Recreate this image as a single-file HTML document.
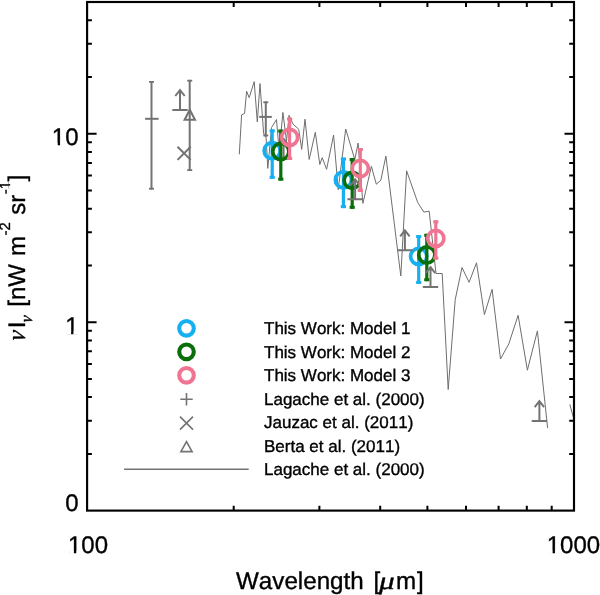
<!DOCTYPE html>
<html><head><meta charset="utf-8"><title>Chart</title>
<style>html,body{margin:0;padding:0;background:#fff;}body{width:600px;height:595px;overflow:hidden;}svg{display:block;will-change:transform;}text{stroke:#000;stroke-width:0.35px;font-kerning:none;text-rendering:geometricPrecision;font-family:"Liberation Sans",sans-serif;fill:#000;}.it{font-family:"Liberation Serif",serif;font-style:italic;}</style>
</head><body>
<svg width="600" height="595" viewBox="0 0 600 595">
<rect x="0" y="0" width="600" height="595" fill="#fff"/>
<path d="M239.3 154.3 L241.6 114.9 L244.6 113.4 L246.6 91.2 L249.2 97.7 L254.2 81.6 L257.3 121.9 L260.0 83.6 L263.6 133.0 L264.6 136.0 L266.0 136.5 L267.8 168.4 L271.5 127.6 L276.5 119.5 L279.2 152.0 L282.9 112.4 L286.5 141.3 L289.0 115.3 L293.1 124.2 L298.7 129.2 L301.7 149.4 L305.0 119.2 L309.2 159.5 L315.3 132.3 L319.8 164.5 L322.2 157.7 L326.6 169.3 L333.6 135.0 L338.2 189.7 L345.7 129.0 L354.8 159.5 L358.1 143.1 L362.9 203.4 L371.4 166.3 L376.3 184.2 L380.8 180.3 L385.9 156.1 L400.8 276.0 L406.6 170.8 L417.7 202.4 L423.8 212.1 L429.2 211.2 L436.0 273.5 L442.2 273.5 L448.2 389.5 L455.2 299.7 L462.0 267.5 L469.1 282.3 L476.5 262.8 L484.4 314.6 L492.1 289.3 L500.5 359.0 L508.8 343.9 L518.1 315.3 L527.4 370.2 L537.4 330.9 L547.6 428.0" fill="none" stroke="#6e6e6e" stroke-width="1" stroke-linejoin="miter"/>
<path d="M569.8 404.4 L573.9 419.2" fill="none" stroke="#6e6e6e" stroke-width="1"/>
<line x1="151.5" y1="81.0" x2="151.5" y2="189.6" stroke="#737373" stroke-width="2.00"/><line x1="149.0" y1="81.9" x2="154.0" y2="81.9" stroke="#737373" stroke-width="1.80"/><line x1="149.0" y1="188.7" x2="154.0" y2="188.7" stroke="#737373" stroke-width="1.80"/>
<line x1="145.1" y1="118.8" x2="158.6" y2="118.8" stroke="#737373" stroke-width="2.0"/>
<line x1="189.7" y1="79.8" x2="189.7" y2="171.0" stroke="#737373" stroke-width="2.00"/><line x1="187.2" y1="80.7" x2="192.2" y2="80.7" stroke="#737373" stroke-width="1.80"/><line x1="187.2" y1="170.1" x2="192.2" y2="170.1" stroke="#737373" stroke-width="1.80"/>
<path d="M189.8 109.7 L195.0 119.7 L184.6 119.7 Z" stroke="#737373" stroke-width="2.00" fill="none" stroke-linejoin="miter"/>
<path d="M177.5 146.7 L190.7 159.9 M177.5 159.9 L190.7 146.7" stroke="#737373" stroke-width="2.00" fill="none"/>
<path d="M172.3 109.9 H187.7 M180.0 109.9 V91.0 M175.3 96.0 L180.0 90.0 L184.7 96.0" stroke="#737373" stroke-width="2.00" fill="none" stroke-linejoin="miter"/>
<line x1="265.8" y1="101.4" x2="265.8" y2="136.4" stroke="#737373" stroke-width="2.00"/><line x1="263.3" y1="102.3" x2="268.3" y2="102.3" stroke="#737373" stroke-width="1.80"/><line x1="263.3" y1="135.5" x2="268.3" y2="135.5" stroke="#737373" stroke-width="1.80"/>
<line x1="259.2" y1="116.9" x2="271.8" y2="116.9" stroke="#737373" stroke-width="2.0"/>
<line x1="272.2" y1="129.4" x2="272.2" y2="178.8" stroke="#16b0f2" stroke-width="3.20"/><line x1="269.6" y1="130.9" x2="274.8" y2="130.9" stroke="#16b0f2" stroke-width="3.00"/><line x1="269.6" y1="177.3" x2="274.8" y2="177.3" stroke="#16b0f2" stroke-width="3.00"/><circle cx="272.2" cy="150.7" r="8.05" fill="none" stroke="#16b0f2" stroke-width="3.70"/>
<line x1="343.4" y1="157.6" x2="343.4" y2="208.1" stroke="#16b0f2" stroke-width="3.20"/><line x1="340.8" y1="159.1" x2="346.0" y2="159.1" stroke="#16b0f2" stroke-width="3.00"/><line x1="340.8" y1="206.6" x2="346.0" y2="206.6" stroke="#16b0f2" stroke-width="3.00"/><circle cx="343.4" cy="179.8" r="8.05" fill="none" stroke="#16b0f2" stroke-width="3.70"/>
<line x1="418.7" y1="235.1" x2="418.7" y2="283.9" stroke="#16b0f2" stroke-width="3.20"/><line x1="416.1" y1="236.6" x2="421.3" y2="236.6" stroke="#16b0f2" stroke-width="3.00"/><line x1="416.1" y1="282.4" x2="421.3" y2="282.4" stroke="#16b0f2" stroke-width="3.00"/><circle cx="418.7" cy="256.4" r="8.05" fill="none" stroke="#16b0f2" stroke-width="3.70"/>
<path d="M275.9 158.8 H291.3 M283.6 158.8 V139.9 M278.9 144.9 L283.6 138.9 L288.3 144.9" stroke="#737373" stroke-width="2.00" fill="none" stroke-linejoin="miter"/>
<line x1="280.8" y1="129.6" x2="280.8" y2="180.6" stroke="#0a6e0a" stroke-width="3.20"/><line x1="278.2" y1="131.1" x2="283.4" y2="131.1" stroke="#0a6e0a" stroke-width="3.00"/><line x1="278.2" y1="179.1" x2="283.4" y2="179.1" stroke="#0a6e0a" stroke-width="3.00"/><circle cx="280.8" cy="151.5" r="8.05" fill="none" stroke="#0a6e0a" stroke-width="3.70"/>
<line x1="352.2" y1="158.1" x2="352.2" y2="208.8" stroke="#0a6e0a" stroke-width="3.20"/><line x1="349.6" y1="159.6" x2="354.8" y2="159.6" stroke="#0a6e0a" stroke-width="3.00"/><line x1="349.6" y1="207.3" x2="354.8" y2="207.3" stroke="#0a6e0a" stroke-width="3.00"/><circle cx="352.2" cy="180.3" r="8.05" fill="none" stroke="#0a6e0a" stroke-width="3.70"/>
<line x1="426.8" y1="233.8" x2="426.8" y2="281.2" stroke="#0a6e0a" stroke-width="3.20"/><line x1="424.2" y1="235.3" x2="429.4" y2="235.3" stroke="#0a6e0a" stroke-width="3.00"/><line x1="424.2" y1="279.7" x2="429.4" y2="279.7" stroke="#0a6e0a" stroke-width="3.00"/><circle cx="426.8" cy="255.0" r="8.05" fill="none" stroke="#0a6e0a" stroke-width="3.70"/>
<path d="M347.4 199.2 H362.8 M355.1 199.2 V180.3 M350.4 185.3 L355.1 179.3 L359.8 185.3" stroke="#737373" stroke-width="2.00" fill="none" stroke-linejoin="miter"/>
<path d="M397.2 250.3 H412.6 M404.9 250.3 V231.4 M400.2 236.4 L404.9 230.4 L409.6 236.4" stroke="#737373" stroke-width="2.00" fill="none" stroke-linejoin="miter"/>
<path d="M422.8 287.0 H438.2 M430.5 287.0 V268.1 M425.8 273.1 L430.5 267.1 L435.2 273.1" stroke="#737373" stroke-width="2.00" fill="none" stroke-linejoin="miter"/>
<path d="M531.7 421.0 H547.1 M539.4 421.0 V402.1 M534.7 407.1 L539.4 401.1 L544.1 407.1" stroke="#737373" stroke-width="2.00" fill="none" stroke-linejoin="miter"/>
<line x1="289.6" y1="117.6" x2="289.6" y2="159.9" stroke="#ef7592" stroke-width="3.20"/><line x1="287.0" y1="119.1" x2="292.2" y2="119.1" stroke="#ef7592" stroke-width="3.00"/><line x1="287.0" y1="158.4" x2="292.2" y2="158.4" stroke="#ef7592" stroke-width="3.00"/><circle cx="289.6" cy="137.4" r="8.05" fill="none" stroke="#ef7592" stroke-width="3.70"/>
<line x1="360.3" y1="148.1" x2="360.3" y2="191.9" stroke="#ef7592" stroke-width="3.20"/><line x1="357.7" y1="149.6" x2="362.9" y2="149.6" stroke="#ef7592" stroke-width="3.00"/><line x1="357.7" y1="190.4" x2="362.9" y2="190.4" stroke="#ef7592" stroke-width="3.00"/><circle cx="360.3" cy="168.5" r="8.05" fill="none" stroke="#ef7592" stroke-width="3.70"/>
<line x1="435.8" y1="220.3" x2="435.8" y2="259.6" stroke="#ef7592" stroke-width="3.20"/><line x1="433.2" y1="221.8" x2="438.4" y2="221.8" stroke="#ef7592" stroke-width="3.00"/><line x1="433.2" y1="258.1" x2="438.4" y2="258.1" stroke="#ef7592" stroke-width="3.00"/><circle cx="435.8" cy="238.4" r="8.05" fill="none" stroke="#ef7592" stroke-width="3.70"/>
<circle cx="186.5" cy="328.3" r="7.3" fill="none" stroke="#16b0f2" stroke-width="4.1"/>
<circle cx="186.5" cy="351.8" r="7.3" fill="none" stroke="#0a6e0a" stroke-width="4.1"/>
<circle cx="186.5" cy="375.3" r="7.3" fill="none" stroke="#ef7592" stroke-width="4.1"/>
<path d="M180.3 399.2 H192.7 M186.5 393.0 V405.4" stroke="#737373" stroke-width="1.60" fill="none"/>
<path d="M180.0 416.6 L193.0 429.6 M180.0 429.6 L193.0 416.6" stroke="#737373" stroke-width="1.60" fill="none"/>
<path d="M186.5 441.7 L192.1 451.6 L180.9 451.6 Z" stroke="#737373" stroke-width="1.60" fill="none" stroke-linejoin="miter"/>
<line x1="124.1" y1="469.3" x2="248.7" y2="469.3" stroke="#737373" stroke-width="1.4"/>
<text x="264.0" y="334.0" font-size="17.0">This Work: Model 1</text>
<text x="264.0" y="357.5" font-size="17.0">This Work: Model 2</text>
<text x="264.0" y="381.0" font-size="17.0">This Work: Model 3</text>
<text x="264.0" y="404.6" font-size="17.0">Lagache et al. (2000)</text>
<text x="264.0" y="428.0" font-size="17.0">Jauzac et al. (2011)</text>
<text x="264.0" y="452.0" font-size="17.0">Berta et al. (2011)</text>
<text x="264.0" y="475.4" font-size="17.0">Lagache et al. (2000)</text>
<rect x="87.1" y="2.0" width="486.9" height="508.6" fill="none" stroke="#000" stroke-width="2.15"/>
<path d="M233.7 2.0 V6.9 M233.7 510.6 V505.7 M319.4 2.0 V6.9 M319.4 510.6 V505.7 M380.2 2.0 V6.9 M380.2 510.6 V505.7 M427.4 2.0 V6.9 M427.4 510.6 V505.7 M466.0 2.0 V6.9 M466.0 510.6 V505.7 M498.6 2.0 V6.9 M498.6 510.6 V505.7 M526.8 2.0 V6.9 M526.8 510.6 V505.7 M551.7 2.0 V6.9 M551.7 510.6 V505.7 M87.1 453.9 H91.9 M574.0 453.9 H569.2 M87.1 420.7 H91.9 M574.0 420.7 H569.2 M87.1 397.1 H91.9 M574.0 397.1 H569.2 M87.1 378.9 H91.9 M574.0 378.9 H569.2 M87.1 364.0 H91.9 M574.0 364.0 H569.2 M87.1 351.3 H91.9 M574.0 351.3 H569.2 M87.1 340.4 H91.9 M574.0 340.4 H569.2 M87.1 330.8 H91.9 M574.0 330.8 H569.2 M87.1 322.2 H96.6 M574.0 322.2 H564.5 M87.1 265.4 H91.9 M574.0 265.4 H569.2 M87.1 232.2 H91.9 M574.0 232.2 H569.2 M87.1 208.7 H91.9 M574.0 208.7 H569.2 M87.1 190.4 H91.9 M574.0 190.4 H569.2 M87.1 175.5 H91.9 M574.0 175.5 H569.2 M87.1 162.9 H91.9 M574.0 162.9 H569.2 M87.1 152.0 H91.9 M574.0 152.0 H569.2 M87.1 142.3 H91.9 M574.0 142.3 H569.2 M87.1 133.7 H96.6 M574.0 133.7 H564.5 M87.1 77.0 H91.9 M574.0 77.0 H569.2 M87.1 43.8 H91.9 M574.0 43.8 H569.2 M87.1 20.3 H91.9 M574.0 20.3 H569.2" stroke="#000" stroke-width="2.0" fill="none"/>
<text x="51.80" y="144.9" font-size="24.0">10</text>
<rect x="53.00" y="142.85" width="4.72" height="3.15" fill="#fff"/><rect x="60.06" y="142.85" width="4.80" height="3.15" fill="#fff"/>
<text x="65.15" y="333.6" font-size="24.0">1</text>
<rect x="66.35" y="331.55" width="4.72" height="3.15" fill="#fff"/><rect x="73.41" y="331.55" width="4.80" height="3.15" fill="#fff"/>
<text x="65.15" y="510.6" font-size="24.0">0</text>
<text x="67.98" y="553" font-size="24.0">100</text>
<rect x="69.18" y="550.95" width="4.72" height="3.15" fill="#fff"/><rect x="76.24" y="550.95" width="4.80" height="3.15" fill="#fff"/>
<text x="546.70" y="552.8" font-size="24.0">1000</text>
<rect x="547.90" y="550.75" width="4.72" height="3.15" fill="#fff"/><rect x="554.96" y="550.75" width="4.80" height="3.15" fill="#fff"/>
<text y="588.6" font-size="24.2"><tspan x="236.0">Wavelength</tspan><tspan x="373.4">[</tspan><tspan x="396.1">m</tspan><tspan x="417.1">]</tspan></text>
<text class="it" transform="translate(378.9 588.6) scale(1.27 1)" x="0" y="0" font-size="24.6">μ</text>
<g transform="translate(25.2 340.3) rotate(-90)">
<text class="it" transform="translate(-1.7 0) skewX(-9) scale(0.9 1)" x="0" y="0" font-size="26" stroke-width="0.7">ν</text>
<text class="it" transform="translate(17.0 6.9) skewX(-9) scale(0.9 1)" x="0" y="0" font-size="17.5" stroke-width="0.5">ν</text>
<text y="0" font-size="24"><tspan x="12.0">I</tspan><tspan x="33.6">[nW</tspan><tspan x="84.4">m</tspan><tspan x="125.5">sr</tspan><tspan x="158.9">]</tspan></text>
<text y="-15" font-size="14.9"><tspan x="104.9">-2</tspan><tspan x="146.1">-1</tspan></text>
<rect x="151.81" y="-16.37" width="2.89" height="2.47" fill="#fff"/><rect x="156.23" y="-16.37" width="2.98" height="2.47" fill="#fff"/>
</g>
</svg>
</body></html>
